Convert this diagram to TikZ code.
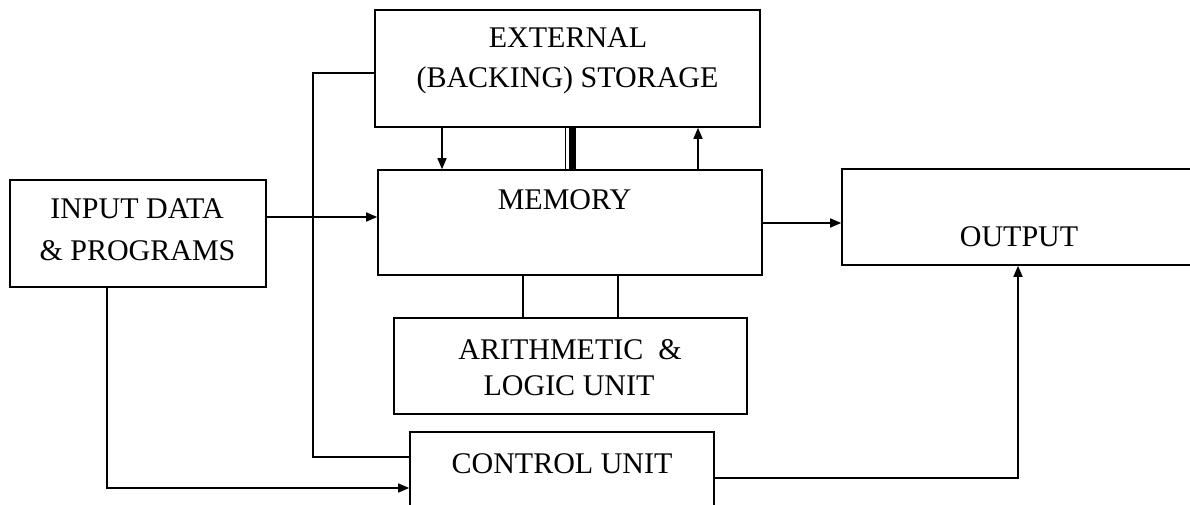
\documentclass[tikz,border=0pt]{standalone}
\usepackage{fontspec}
\setmainfont{Liberation Serif}
\usetikzlibrary{arrows.meta}
\begin{document}
\begin{tikzpicture}[x=1pt,y=-1pt,
  box/.style={draw,line width=1.6pt,inner sep=0pt,minimum width=#1},
  lbl/.style={inner sep=0pt,anchor=base,font=\fontsize{30}{40}\selectfont},
  ln/.style={line width=1.6pt},
  arr/.style={line width=1.6pt,-{Triangle[length=11pt,width=9pt]}}]
\useasboundingbox (0,0) rectangle (1190,505);
\clip (0,0) rectangle (1190,505);
% boxes
\node[box=385pt,minimum height=117pt] (storage) at (567.5,68.5) {};
\node[box=384pt,minimum height=105pt] (memory) at (570,222.5) {};
\node[box=256pt,minimum height=107pt] (input) at (138,233.5) {};
\node[box=353pt,minimum height=96pt] (alu) at (570.5,366) {};
\node[box=304pt,minimum height=110pt] (control) at (562,487) {};
\node[box=368pt,minimum height=96pt] (output) at (1026,217) {};
% labels
\node[lbl] (t1) at (568,48) {EXTERNAL};
\node[lbl] (t2) at (567.5,88) {(BACKING) STORAGE};
\node[lbl] (t3) at (564.5,209) {MEMORY};
\node[lbl] (t4) at (137,218) {INPUT DATA};
\node[lbl] (t5) at (137.5,260) {\& PROGRAMS};
\node[lbl] (t6) at (570,359) {ARITHMETIC\ \ \&};
\node[lbl] (t7) at (569,395) {LOGIC UNIT};
\node[lbl] (t8) at (562,473) {CONTROL UNIT};
\node[lbl] (t9) at (1019,246) {OUTPUT};
% helper coordinates
\coordinate (xa) at (442,0);
\coordinate (xb) at (698,0);
\coordinate (xt) at (565.5,0);
\coordinate (xk) at (572.5,0);
\coordinate (xl1) at (523,0);
\coordinate (xl2) at (618,0);
\coordinate (xin) at (107,0);
\coordinate (xout) at (1018,0);
\coordinate (yin) at (0,217);
\coordinate (ymo) at (0,223);
\coordinate (ycu) at (0,478);
\coordinate (ys) at (0,73);
\coordinate (ycl) at (0,457);
\coordinate (ycl2) at (0,488);
\coordinate (c1) at (313,73);
\coordinate (c2) at (313,457);
\coordinate (c3) at (107,488);
\coordinate (c4) at (1018,478);
% connectors
\draw[arr] (storage.south -| xa) -- (memory.north -| xa);
\draw[arr] (memory.north -| xb) -- (storage.south -| xb);
\draw[line width=1.4pt] (storage.south -| xt) -- (memory.north -| xt);
\draw[line width=6.5pt] (storage.south -| xk) -- (memory.north -| xk);
\draw[arr] (input.east |- yin) -- (memory.west |- yin);
\draw[arr] (memory.east |- ymo) -- (output.west |- ymo);
\draw[ln] (memory.south -| xl1) -- (alu.north -| xl1);
\draw[ln] (memory.south -| xl2) -- (alu.north -| xl2);
\draw[ln] (storage.west |- ys) -- (c1) -- (c2) -- (control.west |- ycl);
\draw[arr] (input.south -| xin) -- (c3) -- (control.west |- ycl2);
\draw[arr] (control.east |- ycu) -- (c4) -- (output.south -| xout);
\end{tikzpicture}
\end{document}
